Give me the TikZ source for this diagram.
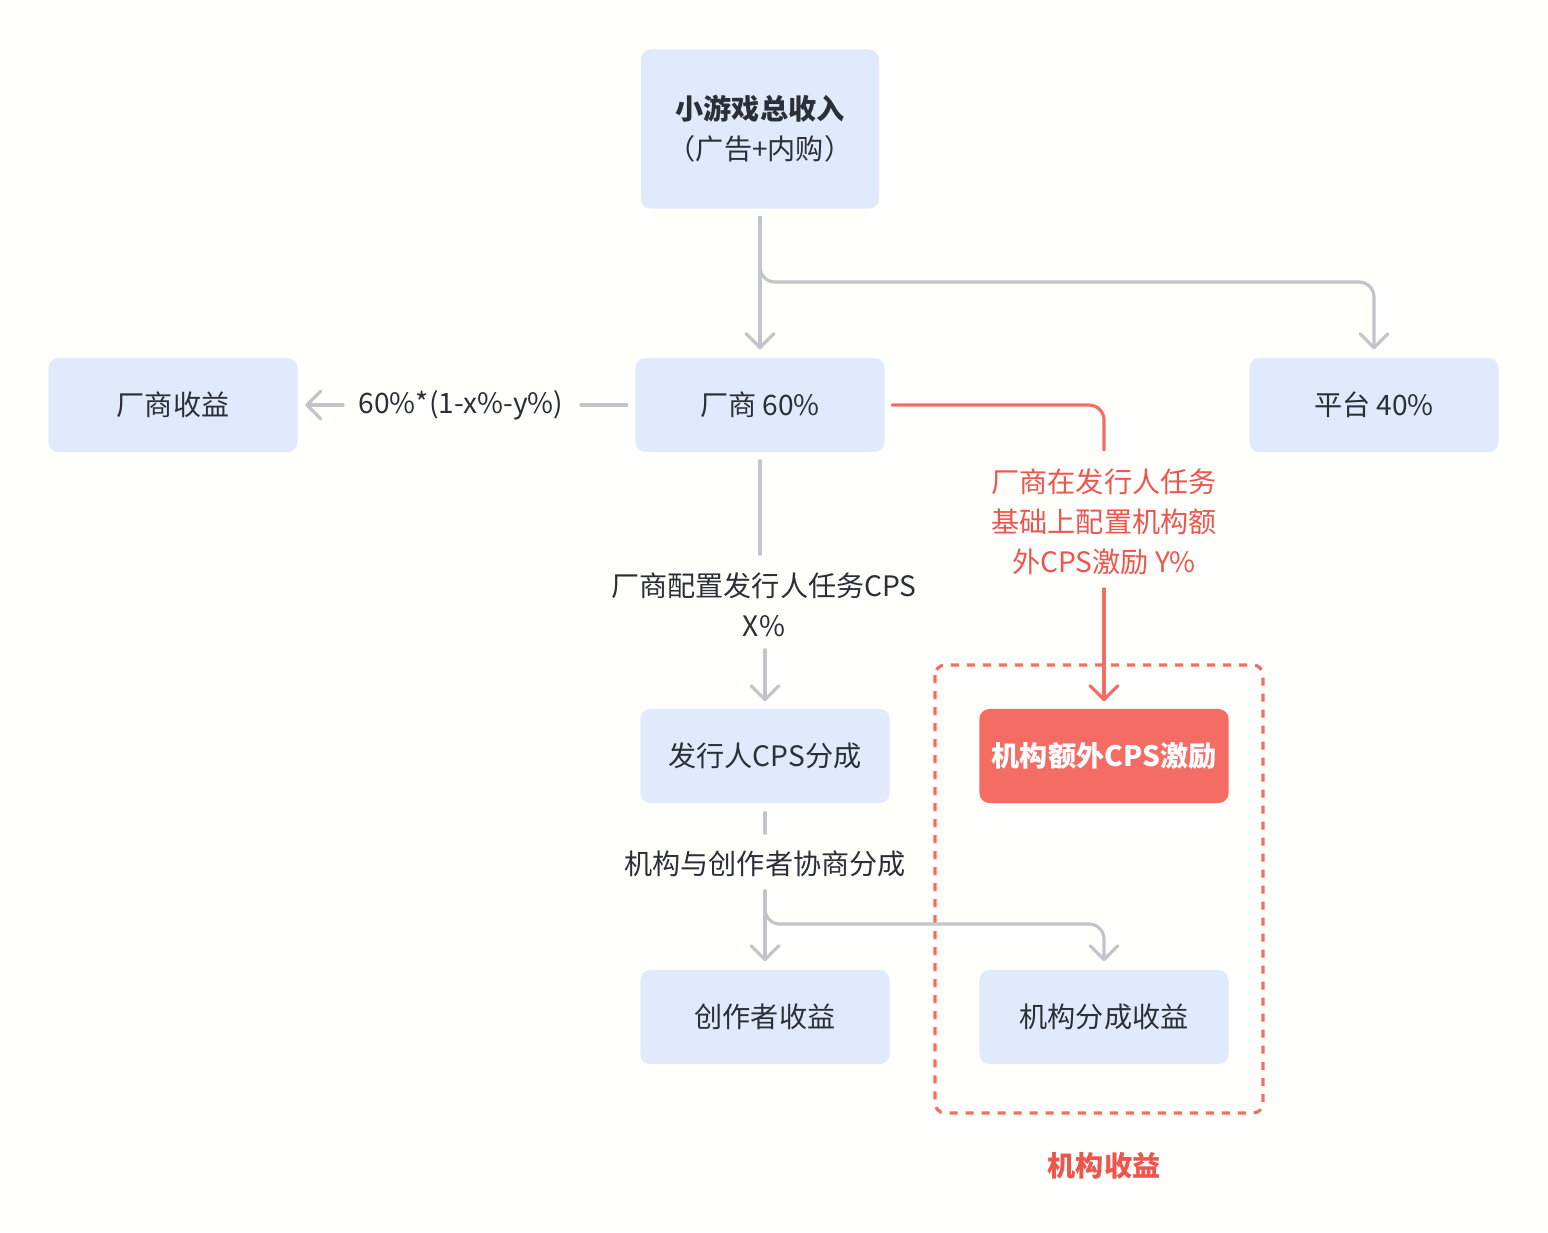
\documentclass[tikz,border=0pt]{standalone}
\usepackage{fontspec}
\setmainfont{Noto Sans CJK SC}
\usetikzlibrary{arrows.meta}

\definecolor{boxblue}{HTML}{E1E9FC}
\definecolor{linegray}{HTML}{C1C4C9}
\definecolor{incred}{HTML}{F56C64}
\definecolor{txtred}{HTML}{F0554D}
\definecolor{txtdark}{HTML}{2B2F36}

\tikzset{
  flowbox/.style={fill=boxblue, rounded corners=0.1cm, minimum width=2.49cm,
    minimum height=0.94cm, text=txtdark, align=center,
    font=\fontsize{8}{11.4}\selectfont},
  redbox/.style={flowbox, fill=incred, text=white, font=\fontsize{8}{11.4}\selectfont\bfseries},
  flowlabel/.style={text=txtdark, align=center, inner sep=0pt,
    font=\fontsize{8}{11.4}\selectfont},
  gline/.style={draw=linegray, line width=0.9pt, line cap=round},
  garrow/.style={gline, -{Straight Barb[length=0.14cm,width=0.28cm,round]}},
  rline/.style={draw=incred, line width=0.9pt, line cap=round},
  rarrow/.style={rline, -{Straight Barb[length=0.14cm,width=0.28cm,round]}},
}

\begin{document}
\begin{tikzpicture}[x=0.01cm,y=-0.01cm]
        \fill[white!99!yellow] (0,0) rectangle (1548,1232);
        \useasboundingbox (0,0) rectangle (1548,1232);

        % boxes
        \node[flowbox, minimum width=2.38cm, minimum height=1.59cm] (total) at (760,129)
          {\textbf{小游戏总收入}\\（广告+内购）};
        \node[flowbox] (vendor) at (760,405) {厂商 60\%};
        \node[flowbox] (vendorrev) at (173,405) {厂商收益};
        \node[flowbox] (platform) at (1374,405) {平台 40\%};
        \node[flowbox] (pubshare) at (765,756) {发行人CPS分成};
        \node[redbox] (incentive) at (1104,756) {机构额外CPS激励};
        \node[flowbox] (creator) at (765,1017) {创作者收益};
        \node[flowbox] (orgshare) at (1104,1017) {机构分成收益};

        % labels on the lines
        \node[flowlabel] (lblrev) at (461,405) {60\%*(1-x\%-y\%)};
        \node[flowlabel] (lblx) at (764,605) {厂商配置发行人任务CPS\\X\%};
        \node[flowlabel, text=txtred] (lbly) at (1104,522)
          {厂商在发行人任务\\基础上配置机构额\\外CPS激励 Y\%};
        \node[flowlabel] (lblsplit) at (765,864) {机构与创作者协商分成};

        % dashed group
        \draw[incred, line width=0.9pt, dash pattern=on 0.08cm off 0.08cm,
          rounded corners=0.1cm] (935,665) rectangle (1263,1113);
        \node[text=txtred, font=\fontsize{8}{11.4}\selectfont\bfseries] (grouplbl)
          at (1104,1166) {机构收益};

        % connectors
        \coordinate (split1) at (760,282);
        \coordinate (split2) at (765,924);
        \draw[garrow, shorten <=0.08cm, shorten >=0.08cm] (total) -- (vendor);
        \draw[garrow, rounded corners=0.15cm, shorten <=0.08cm, shorten >=0.08cm]
          (total.south) -- (split1) -- (split1 -| platform) -- (platform.north);
        \draw[gline, shorten <=0.08cm, shorten >=0.17cm] (vendor.west) -- (vendor.west -| lblrev.east);
        \draw[garrow, shorten <=0.15cm, shorten >=0.07cm] (lblrev.west) -- (vendorrev.east);
        \draw[gline, shorten <=0.08cm, shorten >=0.18cm] (vendor.south) -- (vendor.south |- lblx.north);
        \draw[garrow, shorten <=0.12cm, shorten >=0.07cm] (pubshare.north |- lblx.south) -- (pubshare.north);
        \draw[rline, rounded corners=0.15cm, shorten <=0.07cm, shorten >=0.18cm]
          (vendor.east) -- (vendor.east -| lbly) -- (lbly.north);
        \draw[rarrow, shorten <=0.13cm, shorten >=0.07cm] (lbly.south) -- (incentive.north);
        \draw[gline, shorten <=0.09cm, shorten >=0.17cm] (pubshare.south) -- (lblsplit.north);
        \draw[garrow, shorten <=0.13cm, shorten >=0.08cm] (lblsplit.south) -- (creator.north);
        \draw[garrow, rounded corners=0.15cm, shorten <=0.13cm, shorten >=0.08cm]
          (lblsplit.south) -- (split2) -- (split2 -| orgshare) -- (orgshare.north);
\end{tikzpicture}
\end{document}
